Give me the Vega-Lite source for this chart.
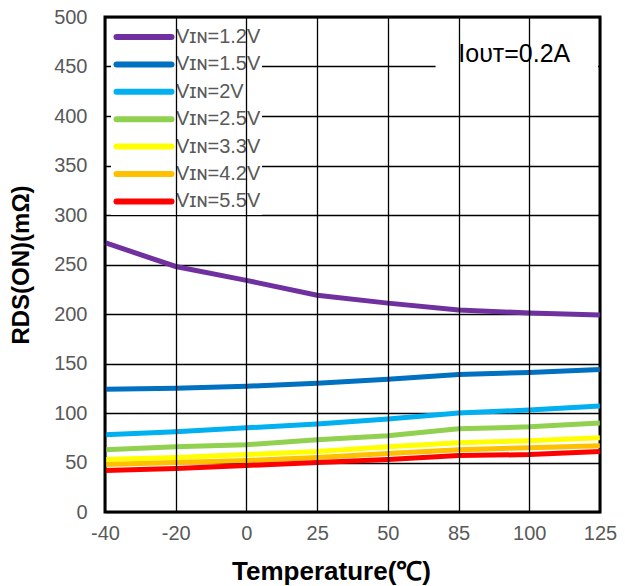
{
  "$schema": "https://vega.github.io/schema/vega-lite/v6.json",
  "width": 495,
  "height": 495,
  "autosize": {"type": "none"},
  "padding": {"left": 105, "top": 17, "right": 25, "bottom": 74},
  "background": "white",
  "config": {
    "font": "Liberation Sans",
    "view": {"stroke": "black", "strokeWidth": 3},
    "axis": {
      "domain": false,
      "ticks": false,
      "grid": true,
      "gridColor": "black",
      "gridWidth": 1.3,
      "gridOpacity": 1,
      "labelColor": "#595959",
      "labelFontSize": 20,
      "labelFont": "Liberation Sans",
      "titleFont": "Liberation Sans",
      "titleFontWeight": "bold",
      "titleColor": "black",
      "titleFontSize": 24
    }
  },
  "data": {
    "values": [
      {"t": "-40", "vin": "1.2V", "r": 272}, {"t": "-20", "vin": "1.2V", "r": 248}, {"t": "0", "vin": "1.2V", "r": 234}, {"t": "25", "vin": "1.2V", "r": 219},
      {"t": "50", "vin": "1.2V", "r": 211}, {"t": "85", "vin": "1.2V", "r": 204}, {"t": "100", "vin": "1.2V", "r": 201}, {"t": "125", "vin": "1.2V", "r": 199},
      {"t": "-40", "vin": "1.5V", "r": 124}, {"t": "-20", "vin": "1.5V", "r": 125}, {"t": "0", "vin": "1.5V", "r": 127}, {"t": "25", "vin": "1.5V", "r": 130},
      {"t": "50", "vin": "1.5V", "r": 134}, {"t": "85", "vin": "1.5V", "r": 139}, {"t": "100", "vin": "1.5V", "r": 141}, {"t": "125", "vin": "1.5V", "r": 144},
      {"t": "-40", "vin": "2V", "r": 78}, {"t": "-20", "vin": "2V", "r": 81}, {"t": "0", "vin": "2V", "r": 85}, {"t": "25", "vin": "2V", "r": 89},
      {"t": "50", "vin": "2V", "r": 94}, {"t": "85", "vin": "2V", "r": 100}, {"t": "100", "vin": "2V", "r": 103}, {"t": "125", "vin": "2V", "r": 107},
      {"t": "-40", "vin": "2.5V", "r": 63}, {"t": "-20", "vin": "2.5V", "r": 66}, {"t": "0", "vin": "2.5V", "r": 68}, {"t": "25", "vin": "2.5V", "r": 73},
      {"t": "50", "vin": "2.5V", "r": 77}, {"t": "85", "vin": "2.5V", "r": 84}, {"t": "100", "vin": "2.5V", "r": 86}, {"t": "125", "vin": "2.5V", "r": 90},
      {"t": "-40", "vin": "3.3V", "r": 53}, {"t": "-20", "vin": "3.3V", "r": 55}, {"t": "0", "vin": "3.3V", "r": 58}, {"t": "25", "vin": "3.3V", "r": 61},
      {"t": "50", "vin": "3.3V", "r": 66}, {"t": "85", "vin": "3.3V", "r": 70}, {"t": "100", "vin": "3.3V", "r": 72}, {"t": "125", "vin": "3.3V", "r": 75},
      {"t": "-40", "vin": "4.2V", "r": 48}, {"t": "-20", "vin": "4.2V", "r": 50}, {"t": "0", "vin": "4.2V", "r": 52}, {"t": "25", "vin": "4.2V", "r": 55},
      {"t": "50", "vin": "4.2V", "r": 59}, {"t": "85", "vin": "4.2V", "r": 63}, {"t": "100", "vin": "4.2V", "r": 65}, {"t": "125", "vin": "4.2V", "r": 67},
      {"t": "-40", "vin": "5.5V", "r": 42}, {"t": "-20", "vin": "5.5V", "r": 44}, {"t": "0", "vin": "5.5V", "r": 47}, {"t": "25", "vin": "5.5V", "r": 50},
      {"t": "50", "vin": "5.5V", "r": 53}, {"t": "85", "vin": "5.5V", "r": 57}, {"t": "100", "vin": "5.5V", "r": 58}, {"t": "125", "vin": "5.5V", "r": 61}
    ]
  },
  "layer": [
    {
      "data": {"values": [{"note": "Iᴏᴜᴛ=0.2A"}]},
      "mark": {"type": "rect", "fill": "white", "xOffset": -23, "x2Offset": -2},
      "encoding": {
        "x": {"datum": "85", "type": "ordinal"},
        "x2": {"datum": "125"},
        "y": {"datum": 498, "type": "quantitative"},
        "y2": {"datum": 439}
      }
    },
    {
      "data": {"values": [{"note": "Iᴏᴜᴛ=0.2A"}]},
      "mark": {"type": "text", "fontSize": 25, "color": "black", "align": "center", "baseline": "alphabetic", "dx": -15, "font": "Liberation Sans"},
      "encoding": {
        "x": {"datum": "100", "type": "ordinal"},
        "y": {"datum": 455, "type": "quantitative"},
        "text": {"field": "note"}
      }
    },
    {
      "mark": {"type": "line", "strokeWidth": 5},
      "encoding": {
        "x": {
          "field": "t",
          "type": "ordinal",
          "sort": ["-40", "-20", "0", "25", "50", "85", "100", "125"],
          "scale": {"type": "point", "padding": 0, "domain": ["-40", "-20", "0", "25", "50", "85", "100", "125"]},
          "axis": {"labelAngle": 0, "labelAlign": "center", "labelPadding": 21, "labelFlush": false, "titlePadding": 15, "titleX": 226, "titleFontSize": 26, "title": "Temperature(℃)", "grid": true}
        },
        "y": {
          "field": "r",
          "type": "quantitative",
          "scale": {"domain": [0, 500], "nice": false},
          "axis": {"values": [0, 50, 100, 150, 200, 250, 300, 350, 400, 450, 500], "labelPadding": 18, "titlePadding": 20, "title": "RDS(ON)(mΩ)", "grid": true}
        },
        "color": {
          "field": "vin",
          "type": "nominal",
          "scale": {
            "domain": ["1.2V", "1.5V", "2V", "2.5V", "3.3V", "4.2V", "5.5V"],
            "range": ["#7030A0", "#0070C0", "#00B0F0", "#92D050", "#FFFF00", "#FFC000", "#FF0000"]
          },
          "legend": {
            "title": null,
            "orient": "top-left",
            "offset": 6,
            "padding": 1,
            "fillColor": "white",
            "symbolType": "M-0.85,0H4.65",
            "symbolSize": 400,
            "symbolStrokeWidth": 6,
            "labelOffset": 38,
            "labelFontSize": 20,
            "labelColor": "#595959",
            "labelFont": "Liberation Sans",
            "rowPadding": 2.4,
            "labelExpr": "'Vɪɴ=' + datum.label",
            "encode": {"symbols": {"update": {"strokeCap": {"value": "round"}}}}
          }
        }
      }
    }
  ]
}
